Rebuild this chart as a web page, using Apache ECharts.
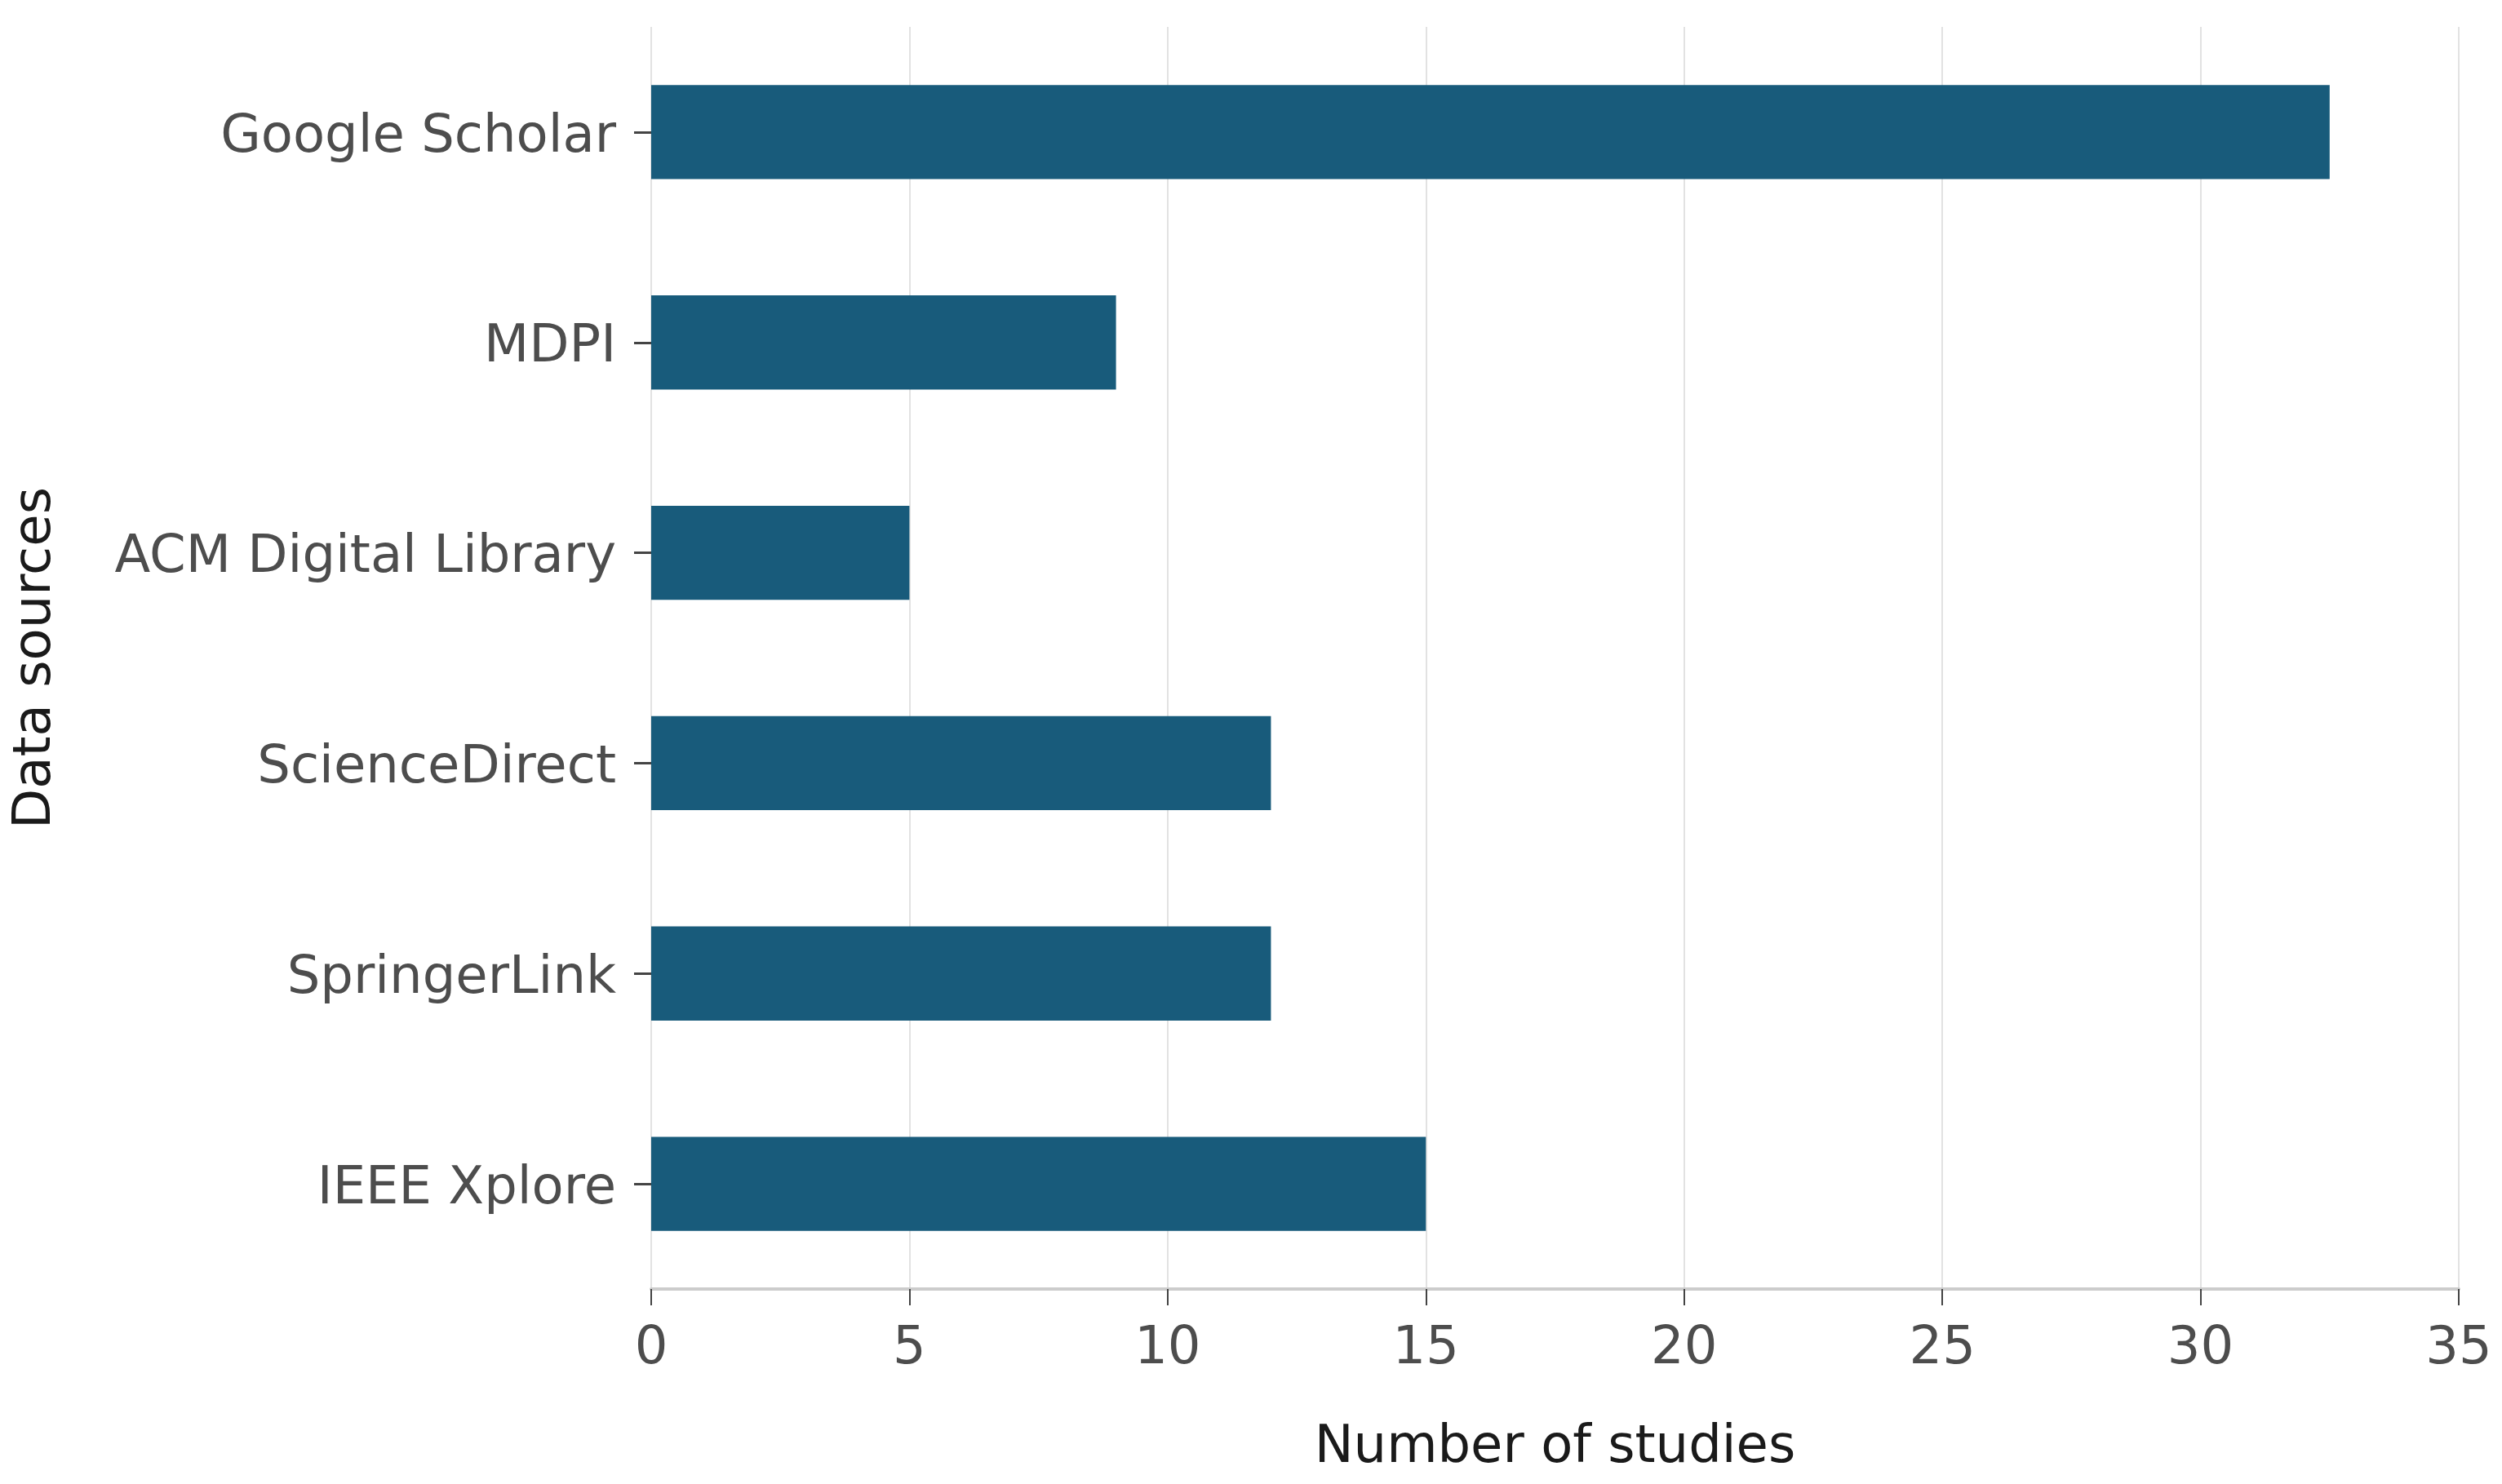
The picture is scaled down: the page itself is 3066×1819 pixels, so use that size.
<!DOCTYPE html>
<html>
<head>
<meta charset="utf-8">
<script src="https://cdn.jsdelivr.net/npm/echarts@6/dist/echarts.min.js"></script>
<style>
html,body{margin:0;padding:0;background:#fff;}
#c{width:3066px;height:1819px;}
</style>
</head>
<body>
<div id="c"></div>
<script>
const categories = ['Google Scholar', 'MDPI', 'ACM Digital Library', 'ScienceDirect', 'SpringerLink', 'IEEE Xplore'];
const studies = [32.5, 9, 5, 12, 12, 15];
const xTicks = [0, 5, 10, 15, 20, 25, 30, 35];

const chart = echarts.init(document.getElementById('c'));
const font = 'DejaVu Sans';
chart.setOption({
  backgroundColor: '#ffffff',
  animation: false,
  grid: { left: 798, right: 53, top: 33, bottom: 239, containLabel: false },
  xAxis: {
    type: 'value',
    min: xTicks[0],
    max: xTicks[xTicks.length - 1],
    interval: 5,
    name: 'Number of studies',
    nameLocation: 'middle',
    nameGap: 163,
    nameTextStyle: { fontFamily: font, fontSize: 64, color: '#1a1a1a' },
    axisLine: { show: true, lineStyle: { color: '#cccccc', width: 4 } },
    axisTick: { show: true, length: 20, lineStyle: { color: '#444444', width: 2 } },
    axisLabel: { fontFamily: font, fontSize: 64, color: '#4d4d4d', margin: 42 },
    splitLine: { show: true, lineStyle: { color: '#e2e2e2', width: 2 } }
  },
  yAxis: {
    type: 'category',
    data: categories,
    inverse: true,
    name: 'Data sources',
    nameLocation: 'middle',
    nameGap: 722,
    nameRotate: 90,
    nameTextStyle: { fontFamily: font, fontSize: 64, color: '#1a1a1a' },
    axisLine: { show: false },
    axisTick: { show: true, alignWithLabel: true, length: 21, lineStyle: { color: '#444444', width: 3 } },
    axisLabel: {
      margin: 43,
      formatter: v => '{a|' + v + '}',
      rich: { a: { fontFamily: font, fontSize: 64, color: '#4d4d4d', padding: [14, 0, 0, 0] } }
    },
    splitLine: { show: false }
  },
  series: [{
    type: 'bar',
    data: studies,
    barWidth: '44.7%',
    itemStyle: { color: '#185b7b' }
  }]
});
</script>
</body>
</html>
